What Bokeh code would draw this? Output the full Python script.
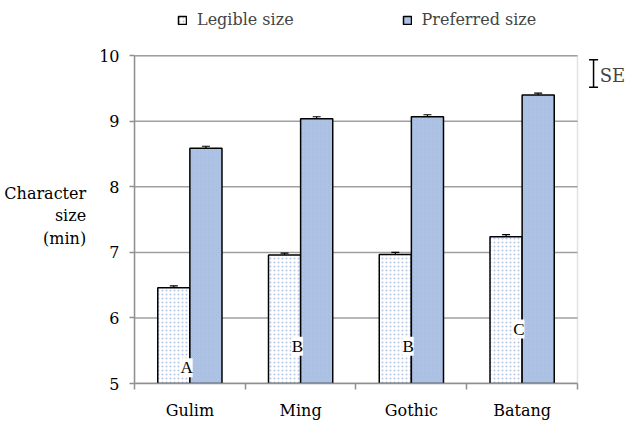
from bokeh.plotting import figure
from bokeh.models import (ColumnDataSource, Range1d, FixedTicker, Whisker, TeeHead,
                          Legend, LegendItem, Label, LabelSet, BoxAnnotation)
from bokeh.embed import file_html
from bokeh.resources import INLINE

fonts = ["Gulim", "Ming", "Gothic", "Batang"]
legible = [6.46, 6.96, 6.97, 7.24]
preferred = [8.59, 9.04, 9.07, 9.40]
legible_se = [0.03, 0.03, 0.03, 0.03]
preferred_se = [0.03, 0.03, 0.03, 0.03]
groups = ["A", "B", "B", "C"]
group_y = [5.24, 5.57, 5.57, 5.83]
y_ticks = [5, 6, 7, 8, 9, 10]

SERIF = "DejaVu Serif"
FS = "16px"
GRID = "#a0a0a0"
W = 0.29
n = len(fonts)
y0, y1 = y_ticks[0], y_ticks[-1]
centers = [i + 0.5 for i in range(n)]

src_l = ColumnDataSource(dict(x=[c - W / 2 for c in centers], top=legible,
                              lo=[v - s for v, s in zip(legible, legible_se)],
                              hi=[v + s for v, s in zip(legible, legible_se)]))
src_p = ColumnDataSource(dict(x=[c + W / 2 for c in centers], top=preferred,
                              lo=[v - s for v, s in zip(preferred, preferred_se)],
                              hi=[v + s for v, s in zip(preferred, preferred_se)]))
src_g = ColumnDataSource(dict(x=[c - 0.03 for c in centers], y=group_y, t=groups))

p = figure(width=632, height=422, output_backend="svg", toolbar_location=None,
           x_range=Range1d(0, 4.4515), y_range=Range1d(5, 10.813),
           min_border_left=134, min_border_right=5, min_border_bottom=34, min_border_top=2)
p.outline_line_color = None
p.xgrid.visible = False
p.ygrid.visible = False

# horizontal grid lines at the y ticks over the category area, plus its border box
p.segment(x0=0, x1=n, y0=y_ticks, y1=y_ticks, line_color=GRID, line_width=1.5,
          level="underlay")
p.add_layout(BoxAnnotation(left=0, right=n, bottom=y0, top=y1, fill_alpha=0,
                           line_color=GRID, line_width=1.5, level="underlay"))

rl = p.vbar(x="x", top="top", bottom=y0, width=W, source=src_l, fill_color="white",
            line_color="black", line_width=1.5, hatch_pattern="dot", hatch_color="#b3c6e6",
            hatch_scale=4, hatch_weight=1.2)
rp = p.vbar(x="x", top="top", bottom=y0, width=W, source=src_p, fill_color="#a8bfe3",
            line_color="black", line_width=1.5, hatch_pattern="diagonal_cross",
            hatch_color="#b6c8e8", hatch_scale=4, hatch_weight=0.7)

for s in (src_l, src_p):
    p.add_layout(Whisker(source=s, base="x", lower="lo", upper="hi", line_color="black",
                         line_width=1.2,
                         upper_head=TeeHead(size=8, line_color="black", line_width=1.2),
                         lower_head=TeeHead(size=8, line_color="black", line_width=1.2)))

p.add_layout(LabelSet(source=src_g, x="x", y="y", text="t", text_font=SERIF,
                      text_font_size="17px", text_align="center", text_baseline="middle",
                      background_fill_color="white", text_color="black"))

# SE key, to the right of the category area
se_src = ColumnDataSource(dict(x=[4.145], lo=[9.52], hi=[9.94]))
p.add_layout(Whisker(source=se_src, base="x", lower="lo", upper="hi", line_color="black",
                     line_width=1.5,
                     upper_head=TeeHead(size=9, line_color="black", line_width=1.5),
                     lower_head=TeeHead(size=9, line_color="black", line_width=1.5)))
p.add_layout(Label(x=4.2, y=9.7, text="SE", text_font=SERIF, text_font_size="18px",
                   text_baseline="middle"))

p.yaxis.ticker = FixedTicker(ticks=y_ticks)
p.yaxis.bounds = (y0, y1)
p.yaxis.axis_line_color = "#909090"
p.yaxis.axis_line_width = 1.5
p.yaxis.major_tick_line_color = "#909090"
p.yaxis.major_tick_line_width = 1.5
p.yaxis.major_tick_out = 5
p.yaxis.major_tick_in = 0
p.yaxis.minor_tick_line_color = None
p.yaxis.major_label_text_font = SERIF
p.yaxis.major_label_text_font_size = FS
p.yaxis.major_label_text_color = "black"
p.yaxis.major_label_standoff = 10
p.yaxis.axis_label = "\n\nCharacter\nsize\n(min)"
p.yaxis.axis_label_text_font = SERIF
p.yaxis.axis_label_text_font_size = FS
p.yaxis.axis_label_text_font_style = "normal"
p.yaxis.axis_label_text_color = "black"
p.yaxis.axis_label_standoff = 10
if "axis_label_orientation" in p.yaxis[0].properties():
    p.yaxis.axis_label_orientation = "horizontal"

p.xaxis.ticker = FixedTicker(ticks=centers, minor_ticks=list(range(n + 1)))
p.xaxis.bounds = (0, n)
p.xaxis.major_label_overrides = {c: f for c, f in zip(centers, fonts)}
p.xaxis.major_tick_line_color = None
p.xaxis.major_tick_out = 0
p.xaxis.minor_tick_line_color = "#909090"
p.xaxis.minor_tick_line_width = 1.5
p.xaxis.minor_tick_out = 6
p.xaxis.minor_tick_in = 0
p.xaxis.axis_line_color = "#909090"
p.xaxis.axis_line_width = 1.5
p.xaxis.major_label_text_font = SERIF
p.xaxis.major_label_text_font_size = FS
p.xaxis.major_label_text_color = "black"
p.xaxis.major_label_standoff = 11

legend = Legend(items=[LegendItem(label="Legible size", renderers=[rl]),
                       LegendItem(label="Preferred size", renderers=[rp])],
                orientation="horizontal", glyph_width=10, glyph_height=10,
                label_text_font=SERIF, label_text_font_size=FS, spacing=108,
                label_standoff=10, border_line_color=None, background_fill_alpha=0,
                location=(43, 354), margin=0, padding=4)
p.add_layout(legend)

open("out.html", "w").write(file_html(p, INLINE))
